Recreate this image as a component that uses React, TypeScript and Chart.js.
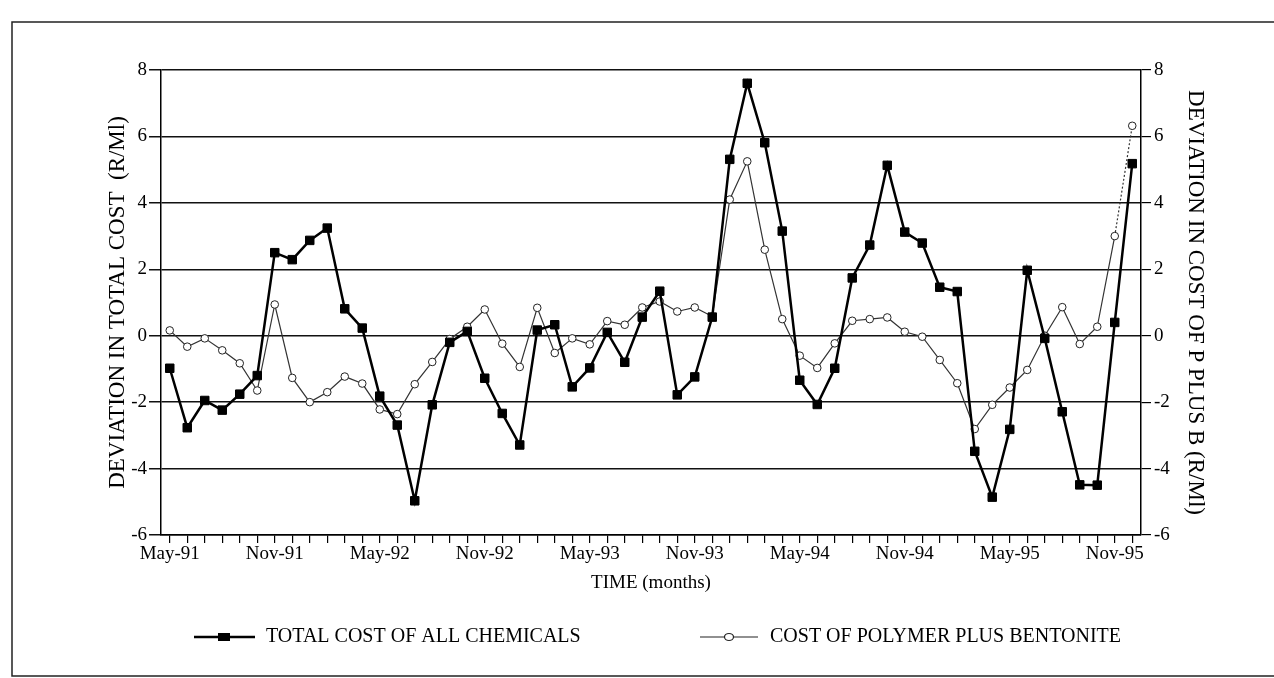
import React, { useEffect, useRef } from 'react';
import { Chart, registerables } from 'chart.js';

Chart.register(...registerables);

const months = [
  'May-91', 'Jun-91', 'Jul-91', 'Aug-91', 'Sep-91', 'Oct-91', 'Nov-91', 'Dec-91',
  'Jan-92', 'Feb-92', 'Mar-92', 'Apr-92', 'May-92', 'Jun-92', 'Jul-92', 'Aug-92', 'Sep-92', 'Oct-92', 'Nov-92', 'Dec-92',
  'Jan-93', 'Feb-93', 'Mar-93', 'Apr-93', 'May-93', 'Jun-93', 'Jul-93', 'Aug-93', 'Sep-93', 'Oct-93', 'Nov-93', 'Dec-93',
  'Jan-94', 'Feb-94', 'Mar-94', 'Apr-94', 'May-94', 'Jun-94', 'Jul-94', 'Aug-94', 'Sep-94', 'Oct-94', 'Nov-94', 'Dec-94',
  'Jan-95', 'Feb-95', 'Mar-95', 'Apr-95', 'May-95', 'Jun-95', 'Jul-95', 'Aug-95', 'Sep-95', 'Oct-95', 'Nov-95', 'Dec-95',
];

const tickLabels = ['May-91', 'Nov-91', 'May-92', 'Nov-92', 'May-93', 'Nov-93', 'May-94', 'Nov-94', 'May-95', 'Nov-95'];

const totalCost = [
  -0.98, -2.77, -1.95, -2.24, -1.76, -1.2, 2.5, 2.29, 2.87, 3.24,
  0.81, 0.23, -1.82, -2.69, -4.97, -2.08, -0.2, 0.13, -1.28, -2.34,
  -3.29, 0.17, 0.33, -1.54, -0.97, 0.1, -0.8, 0.56, 1.34, -1.78,
  -1.24, 0.56, 5.31, 7.6, 5.81, 3.15, -1.34, -2.07, -0.98, 1.74,
  2.73, 5.13, 3.12, 2.79, 1.46, 1.33, -3.48, -4.86, -2.82, 1.97,
  -0.08, -2.29, -4.49, -4.5, 0.4, 5.18,
];

const polymerBentonite = [
  0.16, -0.33, -0.08, -0.44, -0.83, -1.65, 0.94, -1.27, -2.0, -1.7,
  -1.23, -1.44, -2.22, -2.36, -1.46, -0.79, -0.1, 0.27, 0.79, -0.24,
  -0.94, 0.84, -0.52, -0.08, -0.26, 0.44, 0.33, 0.85, 1.03, 0.73,
  0.85, 0.58, 4.1, 5.25, 2.59, 0.5, -0.6, -0.97, -0.23, 0.45,
  0.5, 0.55, 0.12, -0.03, -0.73, -1.43, -2.81, -2.08, -1.56, -1.03,
  0.0, 0.86, -0.25, 0.27, 3.0, 6.32,
];

const yMin = -6;
const yMax = 8;
const yStep = 2;

const seriesNames = ['TOTAL COST OF ALL CHEMICALS', 'COST OF POLYMER PLUS BENTONITE'];
const axisTitles = {
  x: 'TIME (months)',
  left: 'DEVIATION IN TOTAL COST  (R/Ml)',
  right: 'DEVIATION IN COST OF P PLUS B (R/Ml)',
};

const FONT = "'Liberation Serif', 'Times New Roman', serif";

const decorPlugin = {
  id: 'decor',
  afterDraw(chart: any) {
    const ctx = chart.ctx as CanvasRenderingContext2D;
    ctx.save();
    // outer frame
    ctx.strokeStyle = '#222';
    ctx.lineWidth = 1.5;
    ctx.beginPath();
    ctx.moveTo(1274, 22);
    ctx.lineTo(12, 22);
    ctx.lineTo(12, 676);
    ctx.lineTo(1274, 676);
    ctx.stroke();

    // legend
    const y = 637;
    ctx.font = `20px ${FONT}`;
    ctx.textBaseline = 'middle';
    ctx.textAlign = 'left';
    ctx.fillStyle = '#000';
    // item 1
    ctx.strokeStyle = '#000';
    ctx.lineWidth = 2.5;
    ctx.beginPath();
    ctx.moveTo(194, y);
    ctx.lineTo(255, y);
    ctx.stroke();
    ctx.fillRect(218, y - 4, 12, 8);
    ctx.fillText(chart.data.datasets[0].label, 266, y);
    // item 2
    ctx.strokeStyle = '#222';
    ctx.lineWidth = 1.2;
    ctx.beginPath();
    ctx.moveTo(700, y);
    ctx.lineTo(758, y);
    ctx.stroke();
    ctx.beginPath();
    ctx.ellipse(729, y, 4.5, 3.5, 0, 0, Math.PI * 2);
    ctx.fillStyle = '#fff';
    ctx.fill();
    ctx.stroke();
    ctx.fillStyle = '#000';
    ctx.fillText(chart.data.datasets[1].label, 770, y);
    ctx.restore();
  },
};

export default function App() {
  const canvasRef = useRef<HTMLCanvasElement | null>(null);

  useEffect(() => {
    const canvas = canvasRef.current;
    if (!canvas) return;
    const chart = new Chart(canvas, {
      type: 'line',
      data: {
        labels: months,
        datasets: [
          {
            label: seriesNames[0],
            data: totalCost,
            yAxisID: 'y',
            borderColor: '#000',
            borderWidth: 2.5,
            pointStyle: 'rect',
            pointRadius: 6,
            pointBackgroundColor: '#000',
            pointBorderColor: '#000',
            pointBorderWidth: 1,
            tension: 0,
            order: 1,
          },
          {
            label: seriesNames[1],
            data: polymerBentonite,
            yAxisID: 'y1',
            borderColor: '#333',
            borderWidth: 1.2,
            pointStyle: 'circle',
            pointRadius: 3.8,
            pointBackgroundColor: '#fff',
            pointBorderColor: '#222',
            pointBorderWidth: 1,
            tension: 0,
            order: 2,
            segment: {
              borderDash: (c: any) => (c.p1DataIndex === polymerBentonite.length - 1 ? [2, 2] : undefined),
            },
          },
        ],
      },
      options: {
        responsive: false,
        animation: false,
        layout: { padding: { top: 70, left: 0, right: 0, bottom: 0 } },
        plugins: {
          legend: { display: false },
          tooltip: { enabled: false },
        },
        scales: {
          x: {
            type: 'category',
            offset: true,
            grid: {
              offset: false,
              drawOnChartArea: false,
              drawTicks: true,
              tickLength: 8,
              color: '#000',
              lineWidth: 1.2,
            },
            border: { color: '#000', width: 1.5 },
            ticks: {
              autoSkip: false,
              maxRotation: 0,
              minRotation: 0,
              padding: 0,
              color: '#000',
              font: { family: FONT, size: 19 },
              callback: (_v: any, i: number) => (tickLabels.includes(months[i]) ? months[i] : ''),
            },
            title: {
              display: true,
              text: axisTitles.x,
              color: '#000',
              font: { family: FONT, size: 19 },
              padding: { top: 0, bottom: 84 },
            },
            afterFit: (s: any) => {
              s.height = 143;
            },
          },
          y: {
            position: 'left',
            min: yMin,
            max: yMax,
            ticks: {
              stepSize: yStep,
              color: '#000',
              padding: 2,
              font: { family: FONT, size: 19 },
            },
            grid: {
              color: '#111',
              lineWidth: 1.5,
              tickLength: 12,
            },
            border: { color: '#000', width: 1.5 },
            title: {
              display: true,
              text: axisTitles.left,
              color: '#000',
              font: { family: FONT, size: 23 },
              padding: { top: 104, bottom: 0 },
            },
            afterFit: (s: any) => {
              s.width = 161;
            },
          },
          y1: {
            position: 'right',
            min: yMin,
            max: yMax,
            ticks: {
              stepSize: yStep,
              color: '#000',
              padding: 3,
              font: { family: FONT, size: 19 },
            },
            grid: {
              drawOnChartArea: false,
              color: '#000',
              lineWidth: 1.2,
              tickLength: 10,
            },
            border: { color: '#000', width: 1.5 },
            title: {
              display: true,
              text: axisTitles.right,
              color: '#000',
              font: { family: FONT, size: 23 },
              padding: { top: 65, bottom: 0 },
            },
            afterFit: (s: any) => {
              s.width = 133;
            },
          },
        },
      },
      plugins: [decorPlugin],
    });
    return () => chart.destroy();
  }, []);

  return (
    <div style={{ position: 'absolute', left: 0, top: 0, width: 1274, height: 678, background: '#fff' }}>
      <canvas ref={canvasRef} width={1274} height={678} style={{ display: 'block' }} />
    </div>
  );
}
